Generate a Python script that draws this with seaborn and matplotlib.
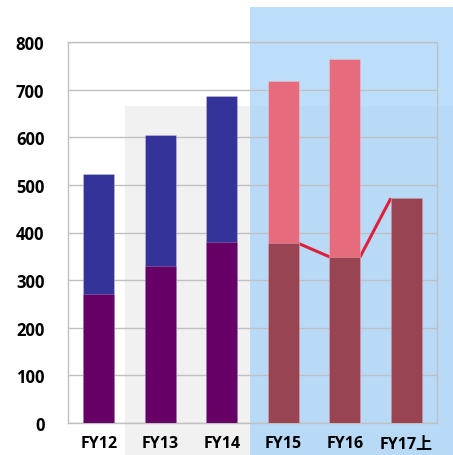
import matplotlib
matplotlib.use("Agg")
import matplotlib.pyplot as plt
import seaborn as sns
import pandas as pd
from matplotlib.patches import Rectangle

categories = ["FY12", "FY13", "FY14", "FY15", "FY16", "FY17上"]
bottom_values = [270, 329, 380, 377, 349, 472]
total_values = [523, 604, 686, 718, 765, 472]
bottom_colors = ["#660066", "#660066", "#660066", "#994452", "#994452", "#994452"]
top_colors = ["#333399", "#333399", "#333399", "#E66B7D", "#E66B7D", "#994452"]
yticks = [0, 100, 200, 300, 400, 500, 600, 700, 800]
line_categories = ["FY15", "FY16", "FY17上"]

BAR_W = 0.5

sns.set_theme(style="white")
plt.rcParams["font.family"] = ["Open Sans", "Noto Sans CJK SC", "DejaVu Sans"]

df = pd.DataFrame({"cat": categories, "bottom": bottom_values, "total": total_values})

fig = plt.figure(figsize=(4.53, 4.56), dpi=100)
fig.patch.set_facecolor("white")
# background panels
fig.patches.append(Rectangle((125/453, 0), (250-125)/453, (456-107)/456,
                             transform=fig.transFigure, facecolor="#F1F1F1",
                             edgecolor="none", zorder=-2))
fig.patches.append(Rectangle((250/453, 0), 1 - 250/453, (456-8)/456,
                             transform=fig.transFigure, facecolor="#BDDEFB",
                             edgecolor="none", zorder=-2))
fig.patches.append(Rectangle((250/453, 0), 1 - 250/453, (456-107)/456,
                             transform=fig.transFigure, facecolor="#B8DAF7",
                             edgecolor="none", zorder=-1))

ax = fig.add_axes([68/453, 32/456, (437-68)/453, (424-43)/456])
ax.set_zorder(2)
ax.set_facecolor("none")

sns.barplot(data=df, x="cat", y="total", hue="cat",
            palette=dict(zip(categories, top_colors)), width=BAR_W, saturation=1,
            legend=False, ax=ax, zorder=3, edgecolor="#FFFFFF40", linewidth=0.6)
sns.barplot(data=df, x="cat", y="bottom", hue="cat",
            palette=dict(zip(categories, bottom_colors)), width=BAR_W, saturation=1,
            legend=False, ax=ax, zorder=3, edgecolor="#FFFFFF40", linewidth=0.6)

# series line connecting segment tops (FY15 -> FY16 -> FY17上)
idx = [categories.index(c) for c in line_categories]
vals = [bottom_values[i] for i in idx]
lx = [idx[0] + BAR_W/2, idx[1] - BAR_W/2, idx[1] + BAR_W/2, idx[2] - BAR_W/2]
ly = [vals[0], vals[1], vals[1], vals[2]]
ax.plot(lx, ly, color="#E0203A", lw=2.2, zorder=2.5, solid_capstyle="butt")

ax.set_xlim(-0.5, len(categories) - 0.5)
ax.set_ylim(0, 800)
ax.set_yticks(yticks)
ax.set_yticklabels([str(v) for v in yticks], fontsize=12, fontweight="bold", color="black")
ax.set_xticks(range(len(categories)))
ax.set_xticklabels(categories, fontsize=11.5, fontweight="bold", color="black")
ax.tick_params(axis="y", length=0, pad=17)
ax.tick_params(axis="x", length=0, pad=9)
ax.set_xlabel("")
ax.set_ylabel("")
ax.yaxis.grid(True, color="#C0C0C0", lw=1)
ax.set_axisbelow(True)
for s in ax.spines.values():
    s.set_visible(True)
    s.set_color("#C0C0C0")
    s.set_linewidth(1)

fig.savefig("out.png", dpi=100)
